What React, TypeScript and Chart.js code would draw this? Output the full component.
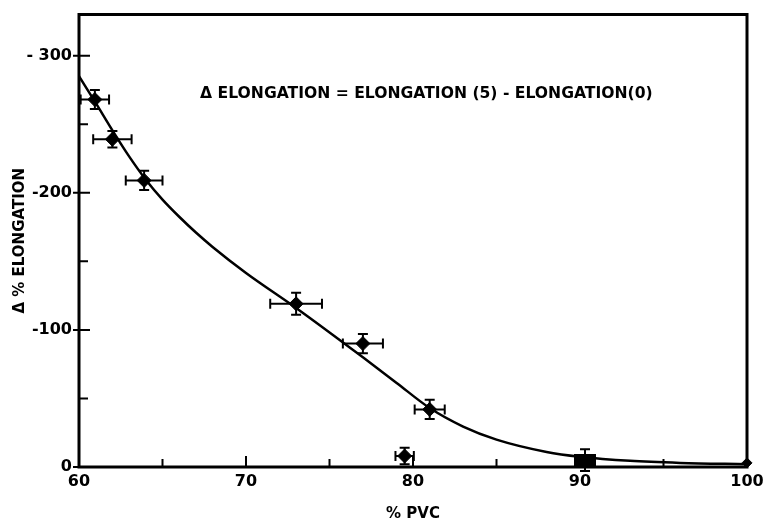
import { useEffect, useRef } from 'react';
import { Chart, registerables } from 'chart.js';

Chart.register(...registerables);

// Measured samples with their error bars (% PVC vs. change in % elongation)
const pvcPercent = [60.95, 62.0, 63.9, 73.0, 77.0, 81.0, 79.5];
const deltaElongation = [-268, -239, -209, -119, -90, -42, -8];
const pvcError = [0.85, 1.15, 1.1, 1.55, 1.2, 0.9, 0.55];
const elongationError = [7, 6, 7, 8, 7, 7, 6];

// Square-marked sample near 90 % PVC
const pvcSquare = [90.3];
const deltaSquare = [-5];
const squareError = [8];

// Pure PVC end point
const pvcEnd = [100];
const deltaEnd = [-3];

// Smooth trend curve through the data
const fitPvc = [60, 61, 62, 63, 64, 65, 66, 67, 68, 70, 73, 77, 79, 81, 83, 85, 88, 90, 93, 96, 100];
const fitDelta = [-285, -265.5, -245.5, -226.5, -209.5, -195, -182.5, -171, -160.5, -141.5, -116, -80, -61.5, -43, -29.5, -20, -11, -7.5, -4.5, -3, -2];

// Axis ticks
const xMajorTicks = [60, 70, 80, 90, 100];
const xMinorTicks = [65, 75, 85, 95];
const yMajorTicks = [0, -100, -200, -300];
const yMinorTicks = [-50, -150, -250];
const yTickLabels = ['0', '-100', '-200', '- 300'];

const NOTE = '\u0394 ELONGATION = ELONGATION (5) - ELONGATION(0)';
const FONT = '"DejaVu Sans", sans-serif';

const errorBars = {
  id: 'errorBars',
  afterDatasetsDraw(chart: any) {
    const { ctx, scales } = chart;
    const xs = scales.x;
    const ys = scales.y;
    const cap = 5;
    ctx.save();
    ctx.strokeStyle = '#000';
    ctx.lineWidth = 2;
    const draw = (x: number, y: number, ex: number, ey: number) => {
      const px = xs.getPixelForValue(x);
      const py = ys.getPixelForValue(y);
      if (ex > 0) {
        const l = xs.getPixelForValue(x - ex);
        const r = xs.getPixelForValue(x + ex);
        ctx.beginPath();
        ctx.moveTo(l, py); ctx.lineTo(r, py);
        ctx.moveTo(l, py - cap); ctx.lineTo(l, py + cap);
        ctx.moveTo(r, py - cap); ctx.lineTo(r, py + cap);
        ctx.stroke();
      }
      if (ey > 0) {
        const t = ys.getPixelForValue(y - ey);
        const b = ys.getPixelForValue(y + ey);
        ctx.beginPath();
        ctx.moveTo(px, t); ctx.lineTo(px, b);
        ctx.moveTo(px - cap, t); ctx.lineTo(px + cap, t);
        ctx.moveTo(px - cap, b); ctx.lineTo(px + cap, b);
        ctx.stroke();
      }
    };
    pvcPercent.forEach((x, i) => draw(x, deltaElongation[i], pvcError[i], elongationError[i]));
    pvcSquare.forEach((x, i) => draw(x, deltaSquare[i], 0, squareError[i]));
    ctx.restore();
  },
};

const frame = {
  id: 'frame',
  afterDraw(chart: any) {
    const { ctx, chartArea: a, scales } = chart;
    const xs = scales.x;
    const ys = scales.y;
    ctx.save();
    ctx.strokeStyle = '#000';
    ctx.lineWidth = 3;
    ctx.strokeRect(a.left, a.top, a.right - a.left, a.bottom - a.top);
    ctx.lineWidth = 2;
    ctx.beginPath();
    xMajorTicks.forEach((v) => {
      const p = xs.getPixelForValue(v);
      ctx.moveTo(p, a.bottom); ctx.lineTo(p, a.bottom - 11);
    });
    xMinorTicks.forEach((v) => {
      const p = xs.getPixelForValue(v);
      ctx.moveTo(p, a.bottom); ctx.lineTo(p, a.bottom - 8);
    });
    yMajorTicks.forEach((v) => {
      const p = ys.getPixelForValue(v);
      ctx.moveTo(a.left - 6, p); ctx.lineTo(a.left + 11, p);
    });
    yMinorTicks.forEach((v) => {
      const p = ys.getPixelForValue(v);
      ctx.moveTo(a.left, p); ctx.lineTo(a.left + 9, p);
    });
    ctx.stroke();

    // Definition of the plotted quantity
    ctx.fillStyle = '#000';
    ctx.font = `bold 15.6px ${FONT}`;
    ctx.textAlign = 'center';
    ctx.textBaseline = 'middle';
    ctx.fillText(NOTE, xs.getPixelForValue(80.8), ys.getPixelForValue(-272));
    ctx.restore();
  },
};

function makeBlock(): HTMLCanvasElement {
  const c = document.createElement('canvas');
  c.width = 22;
  c.height = 13;
  const g = c.getContext('2d')!;
  g.fillStyle = '#000';
  g.fillRect(0, 0, 22, 13);
  return c;
}

export default function App() {
  const ref = useRef<HTMLCanvasElement>(null);

  useEffect(() => {
    document.body.style.margin = '0';
    const canvas = ref.current!;
    const chart = new Chart(canvas, {
      type: 'scatter',
      data: {
        datasets: [
          {
            data: fitPvc.map((x, i) => ({ x, y: fitDelta[i] })),
            showLine: true,
            borderColor: '#000',
            borderWidth: 2.5,
            pointRadius: 0,
            cubicInterpolationMode: 'monotone',
          } as any,
          {
            data: pvcPercent.map((x, i) => ({ x, y: deltaElongation[i] })),
            pointStyle: 'rectRot',
            pointRadius: 7,
            backgroundColor: '#000',
            borderColor: '#000',
          },
          {
            data: pvcSquare.map((x, i) => ({ x, y: deltaSquare[i] })),
            pointStyle: makeBlock(),
            backgroundColor: '#000',
            borderColor: '#000',
          },
          {
            data: pvcEnd.map((x, i) => ({ x, y: deltaEnd[i] })),
            pointStyle: 'rectRot',
            pointRadius: 5,
            backgroundColor: '#000',
            borderColor: '#000',
            clip: false,
          } as any,
        ],
      },
      options: {
        animation: false,
        responsive: false,
        layout: { padding: { top: 14.5, right: 17, left: 0, bottom: 0 } },
        plugins: { legend: { display: false }, tooltip: { enabled: false } },
        scales: {
          x: {
            type: 'linear',
            min: 60,
            max: 100,
            afterFit: (s: any) => {
              s.height = 55;
              s.paddingLeft = 0;
              s.paddingRight = 0;
            },
            afterBuildTicks: (s: any) => { s.ticks = xMajorTicks.map((value) => ({ value })); },
            grid: { display: false, drawTicks: false },
            border: { display: false },
            ticks: { color: '#000', padding: 5, font: { family: FONT, size: 16, weight: 'bold' } },
            title: {
              display: true,
              text: '% PVC',
              color: '#000',
              padding: { top: 0, bottom: 0 },
              font: { family: FONT, size: 15, weight: 'bold', lineHeight: 1 },
            },
          },
          y: {
            type: 'linear',
            min: -330,
            max: 0,
            reverse: true,
            afterFit: (s: any) => {
              s.width = 79;
              s.paddingTop = 0;
              s.paddingBottom = 0;
            },
            afterBuildTicks: (s: any) => { s.ticks = yMajorTicks.map((value) => ({ value })); },
            grid: { display: false, drawTicks: false },
            border: { display: false },
            ticks: {
              color: '#000',
              padding: 7,
              font: { family: FONT, size: 16, weight: 'bold' },
              callback: (v: any) => yTickLabels[yMajorTicks.indexOf(Number(v))] ?? '',
            },
            title: {
              display: true,
              text: '\u0394 % ELONGATION',
              color: '#000',
              padding: { top: 11, bottom: 0 },
              font: { family: FONT, size: 15, weight: 'bold', lineHeight: 1.2 },
            },
          },
        },
      },
      plugins: [errorBars, frame],
    });
    return () => chart.destroy();
  }, []);

  return (
    <div style={{ position: 'absolute', left: 0, top: 0, width: 764, height: 522, background: '#fff' }}>
      <canvas ref={ref} width={764} height={522} style={{ display: 'block' }} />
    </div>
  );
}
